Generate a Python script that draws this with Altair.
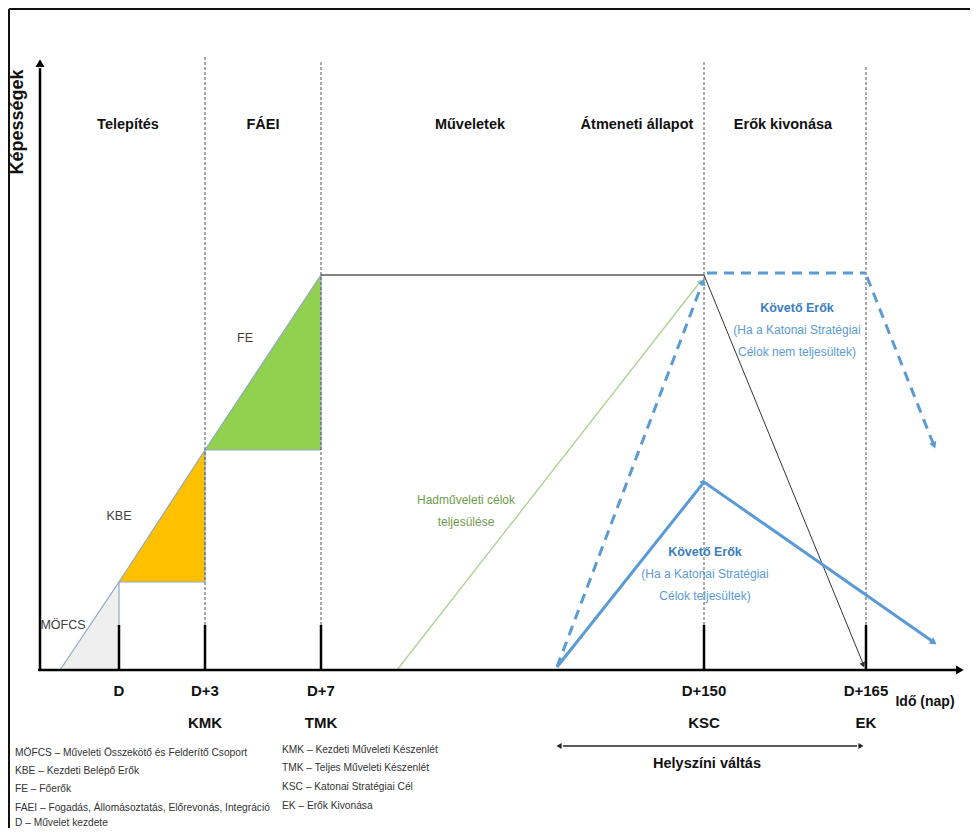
import math
import altair as alt
import pandas as pd

# ---------------- schematic data (x: schematic time position, y: capability level) -------------
W, H = 962, 820
X_DOM = [8, 970]
Y_DOM = [-158, 662]

# milestones on the time axis
tick_x = [119, 205, 321, 704, 866]
tick_top = 45
tick_row1 = ["D", "D+3", "D+7", "D+150", "D+165"]
tick_row2 = ["", "KMK", "TMK", "KSC", "EK"]

# phase headings
phase_x = [128, 263, 470, 637, 783]
phase_names = ["Telepítés", "FÁEI", "Műveletek", "Átmeneti állapot", "Erők kivonása"]

# dashed phase boundaries (x, top)
bound_x = [205, 321, 704, 866]
bound_top = [615, 610, 610, 605]

# force build-up triangles
tri_names = ["MÖFCS", "KBE", "FE"]
tri_x0 = [60, 119, 205]
tri_x1 = [119, 205, 321]
tri_base = [0, 88, 220]
tri_top = [88, 220, 395]
tri_colors = ["#EFEFEF", "#FFC000", "#92D050"]
tri_label_x = [63, 119, 245]
tri_label_y = [45, 154, 332]

# lines
full_ops = [(321, 395), (704, 395)]
withdraw = [(704, 395), (864, 4)]
op_goals = [(397, 0), (700, 388)]
follow_dashed = [[(557, 3), (702, 386)], [(707, 397), (866, 397)], [(867, 393), (933, 227)]]
follow_solid = [(557, 3), (704, 188), (932, 29)]
y_axis = [(40, 0), (40, 602)]
x_axis = [(38, 0), (956, 0)]
relocation = [(563, -76), (857, -76)]
frame = [[(9, -158), (9, 661)], [(9, 661), (970, 661)]]

# arrowheads: tip x, tip y, from x, from y, size, colour
heads = [
    (40, 610, 40, 0, 80, "#000000"),
    (963, 0, 38, 0, 80, "#000000"),
    (864, 3, 704, 395, 35, "#333333"),
    (701, 390, 397, 0, 25, "#A9D18E"),
    (704, 391, 557, 3, 60, "#5B9BD5"),
    (935, 222, 867, 393, 60, "#5B9BD5"),
    (936, 26, 704, 188, 60, "#5B9BD5"),
    (704, 190, 557, 3, 30, "#5B9BD5"),
    (557, -76, 700, -76, 35, "#222222"),
    (863, -76, 700, -76, 35, "#222222"),
]

# texts
blue_top_x = 797
blue_top_y = [362, 340, 318]
blue_top_lines = ["Követő Erők", "(Ha a Katonai Stratégiai", "Célok nem teljesültek)"]
blue_low_x = 705
blue_low_y = [118, 96, 74]
blue_low_lines = ["Követő Erők", "(Ha a Katonai Stratégiai", "Célok teljesültek)"]
green_x = 466
green_y = [170, 148]
green_lines = ["Hadműveleti célok", "teljesülése"]

legend_left_y = [-83, -101, -119, -138, -153]
legend_left = [
    "MÖFCS – Műveleti Összekötő és Felderítő Csoport",
    "KBE – Kezdeti Belépő Erők",
    "FE – Főerők",
    "FAEI – Fogadás, Állomásoztatás, Előrevonás, Integráció",
    "D – Művelet kezdete",
]
legend_right_y = [-80, -98, -117, -136]
legend_right = [
    "KMK – Kezdeti Műveleti Készenlét",
    "TMK – Teljes Műveleti Készenlét",
    "KSC – Katonai Stratégiai Cél",
    "EK – Erők Kivonása",
]

FONT = "Liberation Sans, Arial, Helvetica, sans-serif"


def X(f="x"):
    return alt.X(f"{f}:Q", scale=alt.Scale(domain=X_DOM, nice=False, zero=False), axis=None)


def Y(f="y"):
    return alt.Y(f"{f}:Q", scale=alt.Scale(domain=Y_DOM, nice=False, zero=False), axis=None)


def lines(segments, color, width, dash=None, cap="butt"):
    rows = []
    for i, seg in enumerate(segments):
        for j, (x, y) in enumerate(seg):
            rows.append({"seg": i, "o": j, "x": x, "y": y})
    kw = dict(color=color, strokeWidth=width, strokeCap=cap)
    if dash:
        kw["strokeDash"] = dash
    return alt.Chart(pd.DataFrame(rows)).mark_line(**kw).encode(
        x=X(), y=Y(), detail="seg:N", order="o:Q")


def texts(xs, ys, labels, size, bold=False, color="#000000", align="center", angle=None):
    df = pd.DataFrame({"x": xs, "y": ys, "t": labels})
    kw = dict(fontSize=size, fontWeight="bold" if bold else "normal", color=color,
              align=align, baseline="middle", font=FONT)
    if angle is not None:
        kw["angle"] = angle
    return alt.Chart(df).mark_text(**kw).encode(x=X(), y=Y(), text="t:N")


layers = []

# triangles
tri_rows = []
for n, x0, x1, b, t in zip(tri_names, tri_x0, tri_x1, tri_base, tri_top):
    tri_rows.append({"n": n, "x": x0, "y": b, "y2": b})
    tri_rows.append({"n": n, "x": x1, "y": t, "y2": b})
layers.append(
    alt.Chart(pd.DataFrame(tri_rows)).mark_area(stroke="#8FA9C4", strokeWidth=1.2, opacity=1).encode(
        x=X(), y=alt.Y("y:Q", scale=alt.Scale(domain=Y_DOM, nice=False, zero=False), axis=None, stack=None),
        y2="y2:Q",
        color=alt.Color("n:N", scale=alt.Scale(domain=tri_names, range=tri_colors), legend=None),
        detail="n:N")
)

# dashed boundaries
layers.append(lines([[(x, tick_top), (x, t)] for x, t in zip(bound_x, bound_top)],
                    "#555555", 1, dash=[3, 2]))

# frame
layers.append(lines(frame, "#111111", 2))

# lines
layers.append(lines([op_goals], "#A9D18E", 1.3))
layers.append(lines([full_ops], "#595959", 1.6))
layers.append(lines([withdraw], "#333333", 1))
layers.append(lines(follow_dashed, "#5B9BD5", 3, dash=[10, 7]))
layers.append(lines([follow_solid], "#5B9BD5", 3))

# axes and ticks
layers.append(lines([y_axis, x_axis], "#000000", 2.5))
layers.append(lines([[(x, 0), (x, tick_top)] for x in tick_x], "#000000", 2.5))
layers.append(lines([relocation], "#222222", 1.5))

# arrowheads
hrows = []
for tx, ty, fx, fy, s, c in heads:
    dx, dy = tx - fx, ty - fy
    L = math.hypot(dx, dy)
    ang = math.degrees(math.atan2(dx, dy)) % 360
    r = math.sqrt(s) * 0.35
    hrows.append({"x": tx - dx / L * r, "y": ty - dy / L * r, "a": ang, "s": s, "c": c})
layers.append(
    alt.Chart(pd.DataFrame(hrows)).mark_point(shape="triangle-up", filled=True, opacity=1).encode(
        x=X(), y=Y(),
        angle=alt.Angle("a:Q", scale=None),
        size=alt.Size("s:Q", scale=None),
        color=alt.Color("c:N", scale=None))
)

# texts
layers.append(texts(phase_x, [545] * 5, phase_names, 14.5, bold=True, color="#111111"))
layers.append(texts(tick_x, [-21] * 5, tick_row1, 15, bold=True, color="#111111"))
layers.append(texts(tick_x, [-53] * 5, tick_row2, 15, bold=True, color="#111111"))
layers.append(texts([925], [-32], ["Idő (nap)"], 14, bold=True, color="#111111"))
layers.append(texts([707], [-94], ["Helyszíni váltás"], 14.5, bold=True, color="#111111"))
layers.append(texts([18], [548], ["Képességek"], 18, bold=True, color="#111111", angle=270))
layers.append(texts(tri_label_x, tri_label_y, tri_names, 12.5, color="#404040"))
layers.append(texts([blue_top_x], blue_top_y[:1], blue_top_lines[:1], 12.5, bold=True, color="#3A7DC0"))
layers.append(texts([blue_top_x] * 2, blue_top_y[1:], blue_top_lines[1:], 12, color="#5B9BD5"))
layers.append(texts([blue_low_x], blue_low_y[:1], blue_low_lines[:1], 12.5, bold=True, color="#3A7DC0"))
layers.append(texts([blue_low_x] * 2, blue_low_y[1:], blue_low_lines[1:], 12, color="#5B9BD5"))
layers.append(texts([green_x] * 2, green_y, green_lines, 12, color="#6E9C4B"))
layers.append(texts([15] * 5, legend_left_y, legend_left, 10.2, color="#333333", align="left"))
layers.append(texts([282] * 4, legend_right_y, legend_right, 10.2, color="#333333", align="left"))

chart = alt.layer(*layers).properties(
    width=W, height=H, padding=0,
    autosize=alt.AutoSizeParams(type="none"),
    background="white",
).configure_view(stroke=None)

chart.save("out.html", embed_options={"renderer": "svg", "actions": False})
